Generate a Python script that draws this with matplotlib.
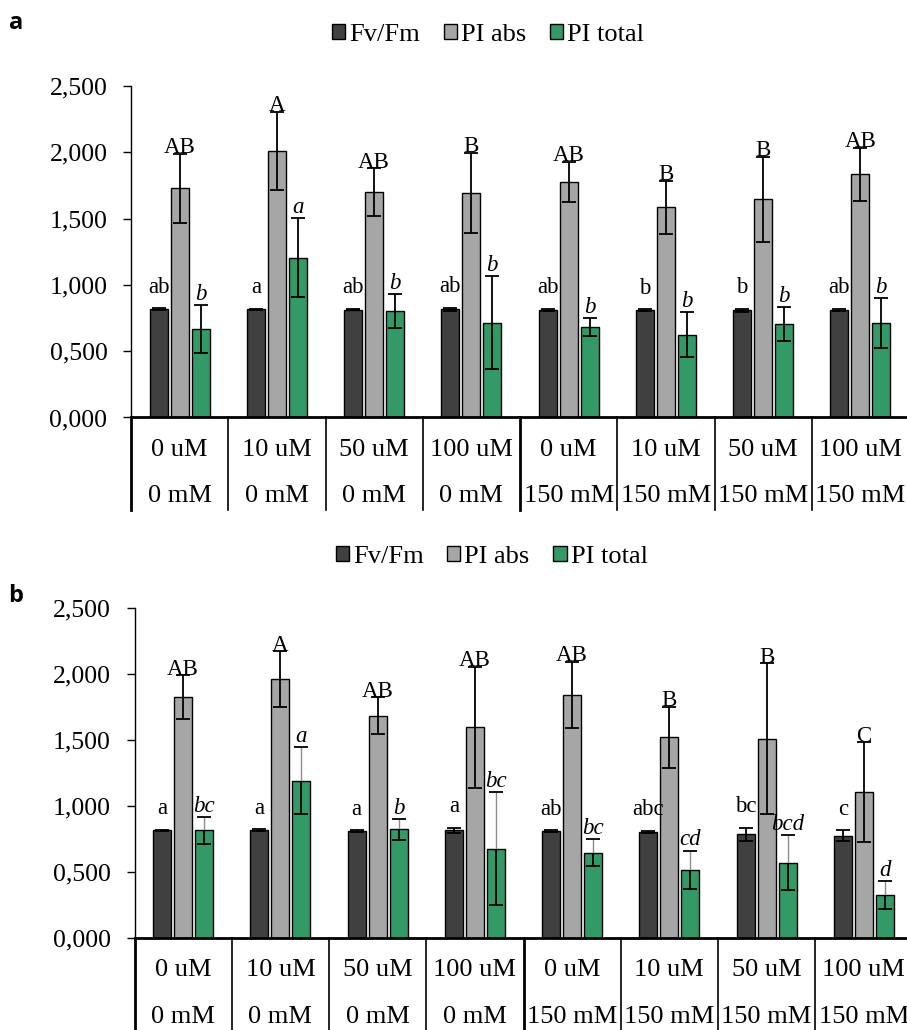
import numpy as np
import matplotlib
matplotlib.use('Agg')
import matplotlib.pyplot as plt
from matplotlib.patches import Patch
from matplotlib.ticker import FuncFormatter

plt.rcParams['font.family'] = ['Liberation Serif', 'DejaVu Serif']

series = ['Fv/Fm', 'PI abs', 'PI total']
colors = ['#404040', '#a6a6a6', '#339966']
conc = ['0 uM', '10 uM', '50 uM', '100 uM', '0 uM', '10 uM', '50 uM', '100 uM']
salt = ['0 mM', '0 mM', '0 mM', '0 mM', '150 mM', '150 mM', '150 mM', '150 mM']

# panel a
fv_a = [0.815, 0.815, 0.813, 0.815, 0.812, 0.808, 0.808, 0.812]
fv_a_err = [0.008, 0.006, 0.006, 0.010, 0.006, 0.008, 0.010, 0.010]
abs_a = [1.728, 2.012, 1.698, 1.695, 1.776, 1.585, 1.645, 1.836]
abs_a_err = [0.26, 0.294, 0.18, 0.30, 0.153, 0.20, 0.32, 0.20]
tot_a = [0.666, 1.205, 0.803, 0.716, 0.681, 0.625, 0.704, 0.711]
tot_a_err = [0.18, 0.30, 0.13, 0.35, 0.066, 0.167, 0.13, 0.19]
fv_a_lab = ['ab', 'a', 'ab', 'ab', 'ab', 'b', 'b', 'ab']
abs_a_lab = ['AB', 'A', 'AB', 'B', 'AB', 'B', 'B', 'AB']
tot_a_lab = ['b', 'a', 'b', 'b', 'b', 'b', 'b', 'b']

# panel b
fv_b = [0.817, 0.820, 0.812, 0.817, 0.810, 0.805, 0.789, 0.777]
fv_b_err = [0.006, 0.006, 0.006, 0.018, 0.008, 0.008, 0.05, 0.04]
abs_b = [1.826, 1.964, 1.686, 1.598, 1.846, 1.523, 1.512, 1.106]
abs_b_err = [0.166, 0.21, 0.14, 0.46, 0.25, 0.23, 0.57, 0.38]
tot_b = [0.817, 1.194, 0.827, 0.680, 0.650, 0.520, 0.574, 0.330]
tot_b_err = [0.10, 0.255, 0.08, 0.43, 0.10, 0.145, 0.205, 0.107]
fv_b_lab = ['a', 'a', 'a', 'a', 'ab', 'abc', 'bc', 'c']
abs_b_lab = ['AB', 'A', 'AB', 'AB', 'AB', 'B', 'B', 'C']
tot_b_lab = ['bc', 'a', 'b', 'bc', 'bc', 'cd', 'bcd', 'd']

W, H = 907, 1030
fig = plt.figure(figsize=(W / 100, H / 100), dpi=100)

def draw_panel(rect, vals, errs, labs, letter, letter_y, grey_top=False):
    ax = fig.add_axes(rect)
    x = np.arange(len(conc))
    width = 0.185
    offs = [-0.215, 0.0, 0.215]
    lab_off = [0.16, 0.045, 0.08]
    for i in range(3):
        xs = x + offs[i]
        ax.bar(xs, vals[i], width, color=colors[i], edgecolor='black', linewidth=1.0, zorder=2)
        if grey_top and i == 2:
            # upper whisker drawn thin grey, lower part black
            ax.errorbar(xs, vals[i], yerr=[np.zeros(len(x)), errs[i]], fmt='none',
                        ecolor='#8c8c8c', elinewidth=1.0, capsize=0, zorder=3)
            ax.errorbar(xs, vals[i], yerr=[errs[i], np.zeros(len(x))], fmt='none',
                        ecolor='black', elinewidth=1.3, capsize=0, zorder=3)
            ax.errorbar(xs, vals[i], yerr=errs[i], fmt='none', ecolor='black',
                        elinewidth=0, capsize=5, capthick=1.3, zorder=3)
        else:
            ax.errorbar(xs, vals[i], yerr=errs[i], fmt='none', ecolor='black',
                        elinewidth=1.3, capsize=5, capthick=1.3, zorder=3)
        for j in range(len(x)):
            ax.text(xs[j], vals[i][j] + errs[i][j] + lab_off[i], labs[i][j],
                    ha='center', va='center', fontsize=16.5,
                    style='italic' if i == 2 else 'normal', zorder=4)
    ax.set_xlim(-0.5, len(x) - 0.5)
    ax.set_ylim(0, 2.5)
    ax.set_yticks(np.arange(0, 2.51, 0.5))
    ax.yaxis.set_major_formatter(FuncFormatter(lambda v, p: f'{v:.3f}'.replace('.', ',')))
    ax.tick_params(axis='y', labelsize=18.5, length=6, width=1.0, pad=11)
    ax.set_xticks([])
    for s in ['top', 'right']:
        ax.spines[s].set_visible(False)
    ax.spines['left'].set_linewidth(1.0)
    ax.spines['bottom'].set_linewidth(2.0)
    tr = ax.get_xaxis_transform()
    for j in range(len(x)):
        ax.text(x[j], -0.097, conc[j], transform=tr, ha='center', va='center', fontsize=19)
        ax.text(x[j], -0.237, salt[j], transform=tr, ha='center', va='center', fontsize=19)
    for b in np.arange(-0.5, len(x) + 0.5, 1.0):
        lw = 2.0 if b in (-0.5, 3.5) else 1.2
        ax.plot([b, b], [0, -0.28], transform=tr, color='black', lw=lw, clip_on=False)
    handles = [Patch(facecolor=c, edgecolor='black', linewidth=1.0) for c in colors]
    ax.legend(handles, series, loc='center', bbox_to_anchor=(0.459, 1.155), ncol=3,
              frameon=False, fontsize=19, handlelength=0.5, handleheight=0.5,
              handletextpad=0.15, columnspacing=0.9)
    fig.text(16 / W, 1 - letter_y / H, letter, fontsize=17, fontweight='bold',
             family='Open Sans', ha='center', va='center')
    return ax

draw_panel([131 / W, 1 - 417.5 / H, 778 / W, 331.5 / H],
           [fv_a, abs_a, tot_a], [fv_a_err, abs_a_err, tot_a_err],
           [fv_a_lab, abs_a_lab, tot_a_lab], 'a', 23)
draw_panel([134.5 / W, 1 - 938.3 / H, 778 / W, 330 / H],
           [fv_b, abs_b, tot_b], [fv_b_err, abs_b_err, tot_b_err],
           [fv_b_lab, abs_b_lab, tot_b_lab], 'b', 596, grey_top=True)

fig.savefig('out.png', dpi=100)
